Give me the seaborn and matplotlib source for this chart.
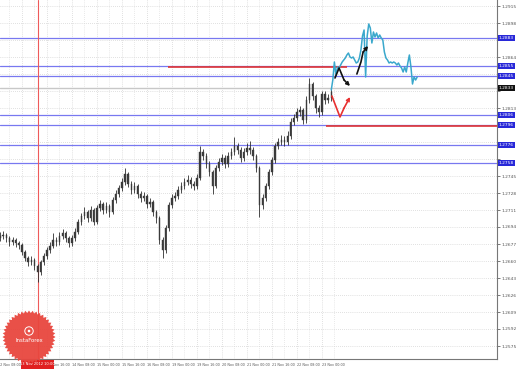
import numpy as np
import pandas as pd
import matplotlib
matplotlib.use("Agg")
import matplotlib.pyplot as plt
import matplotlib.transforms as mtransforms
from matplotlib.patches import Polygon, Rectangle, Circle
import seaborn as sns

sns.set_style("white")
plt.rcParams['font.family'] = ['DejaVu Sans']

# ---------------- data (2-hour candles from 12 Nov 10:00) ----------------
first_open = 1.2683
close = [1.2685,1.2686,1.2683,1.2679,1.2681,1.2678,1.2676,1.2669,1.2663,1.2659,
         1.2661,1.2655,1.2649,1.2659,1.2665,1.2671,1.2675,1.2681,1.2679,1.2685,
         1.2688,1.2683,1.2678,1.2683,1.2689,1.2699,1.2705,1.2709,1.2703,1.2711,
         1.2699,1.2713,1.2717,1.2711,1.2715,1.2709,1.2721,1.2727,1.2733,1.2739,
         1.2747,1.2737,1.2731,1.2735,1.2727,1.2723,1.2725,1.2717,1.2719,1.2709,
         1.2703,1.2681,1.2671,1.2693,1.2716,1.2723,1.2725,1.2731,1.2735,1.2739,
         1.2741,1.2737,1.2735,1.2743,1.2769,1.2765,1.2757,1.2749,1.2735,1.2753,
         1.2759,1.2763,1.2757,1.2765,1.2769,1.2775,1.2771,1.2763,1.2769,1.2773,
         1.2771,1.2765,1.2753,1.2716,1.2723,1.2735,1.2749,1.2761,1.2775,1.2779,
         1.2781,1.2779,1.2785,1.2799,1.2803,1.2809,1.2811,1.2801,1.2821,1.2837,
         1.2825,1.2813,1.2809,1.2827,1.2821,1.2823,1.2829]
high = [1.2689,1.2690,1.2688,1.2685,1.2684,1.2683,1.2680,1.2678,1.2671,1.2665,
        1.2665,1.2663,1.2657,1.2661,1.2668,1.2674,1.2679,1.2688,1.2684,1.2689,
        1.2692,1.2690,1.2685,1.2686,1.2693,1.2702,1.2708,1.2714,1.2711,1.2715,
        1.2713,1.2716,1.2721,1.2719,1.2719,1.2717,1.2724,1.2731,1.2736,1.2743,
        1.2753,1.2749,1.2740,1.2739,1.2737,1.2730,1.2729,1.2727,1.2723,1.2721,
        1.2711,1.2705,1.2684,1.2696,1.2719,1.2727,1.2729,1.2735,1.2739,1.2743,
        1.2746,1.2744,1.2740,1.2747,1.2775,1.2772,1.2768,1.2760,1.2751,1.2756,
        1.2763,1.2767,1.2766,1.2769,1.2773,1.2784,1.2778,1.2774,1.2773,1.2778,
        1.2780,1.2774,1.2767,1.2755,1.2727,1.2738,1.2752,1.2764,1.2778,1.2783,
        1.2786,1.2785,1.2790,1.2803,1.2807,1.2813,1.2815,1.2813,1.2825,1.2843,
        1.2839,1.2827,1.2816,1.2830,1.2830,1.2827,1.2833]
low = [1.2680,1.2682,1.2679,1.2675,1.2676,1.2674,1.2672,1.2666,1.2660,1.2655,
       1.2656,1.2651,1.2639,1.2646,1.2656,1.2662,1.2668,1.2673,1.2675,1.2676,
       1.2682,1.2679,1.2674,1.2675,1.2680,1.2687,1.2696,1.2702,1.2699,1.2700,
       1.2696,1.2697,1.2710,1.2707,1.2708,1.2704,1.2707,1.2718,1.2724,1.2730,
       1.2736,1.2734,1.2727,1.2728,1.2723,1.2719,1.2720,1.2713,1.2714,1.2705,
       1.2698,1.2677,1.2663,1.2668,1.2690,1.2713,1.2720,1.2722,1.2728,1.2732,
       1.2736,1.2733,1.2731,1.2732,1.2741,1.2761,1.2753,1.2745,1.2727,1.2733,
       1.2750,1.2756,1.2753,1.2754,1.2762,1.2766,1.2767,1.2759,1.2760,1.2766,
       1.2767,1.2761,1.2749,1.2704,1.2712,1.2720,1.2732,1.2746,1.2758,1.2772,
       1.2776,1.2775,1.2776,1.2782,1.2796,1.2800,1.2805,1.2797,1.2798,1.2818,
       1.2821,1.2808,1.2804,1.2806,1.2817,1.2818,1.2820]

# later price path (hourly) drawn in cyan
cyan = [1.2831,1.2841,1.2859,1.2846,1.2854,1.2853,1.2856,1.2859,1.2861,1.2863,
        1.2866,1.2868,1.2864,1.2863,1.2864,1.2861,1.2858,1.2859,1.2863,1.2871,
        1.2885,1.2891,1.2844,1.2885,1.2897,1.2893,1.2878,1.2889,1.2884,1.2888,
        1.2883,1.2886,1.2883,1.2881,1.2869,1.2863,1.2861,1.2858,1.2859,1.2858,
        1.2859,1.2858,1.2856,1.2858,1.2855,1.2853,1.2849,1.2854,1.2849,1.2858,
        1.2866,1.2854,1.2837,1.2844,1.2841,1.2844]
cyan_start_bar = 106

blue_levels = [1.2883, 1.2855, 1.2845, 1.2806, 1.2796, 1.2776, 1.2758]
red_levels = [1.2854, 1.2795]
red_from = [53.8, 104.3]
red_to = [111.0, 160.0]
current_price = 1.2833
crosshair_bar = 12.16
crosshair_label = "13 Nov 2012 10:00"

date_bars = [-1, 7, 15, 23, 31, 39, 47, 55, 63, 71, 79, 87, 95, 103]
date_labels = ["12 Nov 08:00", "13 Nov 00:00", "13 Nov 16:00", "14 Nov 08:00",
               "15 Nov 00:00", "15 Nov 16:00", "16 Nov 08:00", "19 Nov 00:00",
               "19 Nov 16:00", "20 Nov 08:00", "21 Nov 00:00", "21 Nov 16:00",
               "22 Nov 08:00", "23 Nov 00:00"]
price_ticks = [round(1.2575 + 0.0017 * k, 4) for k in range(21)]

black_arrow1_x = [107.2, 108.5, 110.1, 112.0]
black_arrow1_y = [1.2843, 1.2853, 1.2841, 1.2835]
black_arrow2_x = [114.2, 115.5, 116.2, 117.8]
black_arrow2_y = [1.2847, 1.2859, 1.2869, 1.2875]
red_arrow_x = [106.2, 108.8, 110.1, 112.0]
red_arrow_y = [1.2825, 1.2804, 1.2813, 1.2824]

# ---------------- figure ----------------
W, H = 518, 370
fig = plt.figure(figsize=(W / 100, H / 100), dpi=100)
fig.patch.set_facecolor('white')
ax = fig.add_axes([0, 11 / H, 497 / W, 359 / H])
ax.set_facecolor('white')
ax.set_xlim(0, 497 / 3.125)
ax.set_ylim(1.2921 - 0.0359, 1.2921)

# grid
for p in price_ticks:
    ax.axhline(p, color='#c4c4c4', lw=0.5, ls=(0, (1, 2)), zorder=0)
for b in date_bars:
    ax.axvline(b, color='#c4c4c4', lw=0.5, ls=(0, (1, 2)), zorder=0)
    ax.axvline(b + 4, color='#d4d4d4', lw=0.5, ls=(0, (1, 2)), zorder=0)

# level lines
for lv in blue_levels:
    ax.axhline(lv, color='#7878f0', lw=0.9, zorder=1)
ax.axhline(current_price, color='#c8c8c8', lw=1.0, zorder=1)
for lv, a, b in zip(red_levels, red_from, red_to):
    ax.hlines(lv, a, b, color='#e03434', lw=1.2, zorder=2)

ax.axvline(crosshair_bar, color='#ee5a5a', lw=0.8, zorder=2)

# candles
df = pd.DataFrame({'close': close, 'high': high, 'low': low})
df['open'] = [first_open] + close[:-1]
df['bar'] = np.arange(len(df))
ax.vlines(df['bar'], df['low'], df['high'], color='#2e2e2e', lw=0.6, zorder=3)
body_lo = np.minimum(df['open'], df['close'])
body_h = np.maximum(np.abs(df['close'] - df['open']), 0.00008)
ax.bar(df['bar'], body_h, bottom=body_lo, width=0.45, color='#3a3a3a',
       edgecolor='#3a3a3a', lw=0.3, zorder=3)

# cyan path
cdf = pd.DataFrame({'bar': cyan_start_bar + 0.5 * np.arange(len(cyan)), 'price': cyan})
sns.lineplot(data=cdf, x='bar', y='price', ax=ax, color='#3aa8cc', lw=1.1, zorder=4)

# hand-drawn arrows
def draw_arrow(xs, ys, col):
    ax.plot(xs[:-1], ys[:-1], color=col, lw=1.2, zorder=5, solid_capstyle='round')
    ax.annotate('', xy=(xs[-1], ys[-1]), xytext=(xs[-2], ys[-2]),
                arrowprops=dict(arrowstyle='->', color=col, lw=1.2,
                                mutation_scale=5, shrinkA=0, shrinkB=0), zorder=5)

draw_arrow(black_arrow1_x, black_arrow1_y, '#111111')
draw_arrow(black_arrow2_x, black_arrow2_y, '#111111')
draw_arrow(red_arrow_x, red_arrow_y, '#e83030')

# axes styling
for s in ['left', 'top']:
    ax.spines[s].set_visible(False)
for s in ['right', 'bottom']:
    ax.spines[s].set_color('#777777')
    ax.spines[s].set_linewidth(0.8)
ax.set_xlabel('')
ax.set_ylabel('')
ax.yaxis.tick_right()
ax.set_yticks(price_ticks)
marked = blue_levels + [current_price]
ax.set_yticklabels([("" if min(abs(p - m) for m in marked) < 0.0006 else f"{p:.4f}")
                    for p in price_ticks])
ax.tick_params(axis='y', labelsize=3.2, length=2, width=0.5, pad=1.5,
               colors='#444444', labelcolor='#555555')
ax.set_xticks([b for b in date_bars if b >= 0])
# the time label right under the crosshair box is hidden by it, as in MT4
ax.set_xticklabels([("" if abs(b - crosshair_bar) < 5.5 and b < crosshair_bar else l)
                    for b, l in zip(date_bars, date_labels) if b >= 0], ha='left')
ax.tick_params(axis='x', labelsize=2.4, length=2, width=0.5, pad=1.2,
               colors='#444444', labelcolor='#555555')
trans = mtransforms.blended_transform_factory(ax.transData, ax.transAxes)
for b, l in zip(date_bars, date_labels):
    if b < 0:
        ax.text(b + 0.3, -0.011, l, transform=trans, ha='left', va='top',
                fontsize=2.4, color='#555555', clip_on=False)

# colored price labels on the axis
ytr = mtransforms.blended_transform_factory(ax.transAxes, ax.transData)
for lv in blue_levels:
    ax.text(1.004, lv, f"{lv:.4f}", transform=ytr, ha='left', va='center',
            fontsize=3.2, color='white', clip_on=False, zorder=6,
            bbox=dict(boxstyle='square,pad=0.25', fc='#2828d8', ec='none'))
ax.text(1.004, current_price, f"{current_price:.4f}", transform=ytr, ha='left',
        va='center', fontsize=3.2, color='white', clip_on=False, zorder=6,
        bbox=dict(boxstyle='square,pad=0.25', fc='#111111', ec='none'))

# overlay in pixel space: crosshair time label and logo
ov = fig.add_axes([0, 0, 1, 1], zorder=10)
ov.set_xlim(0, W)
ov.set_ylim(H, 0)
ov.axis('off')
ov.patch.set_alpha(0)
ov.add_patch(Rectangle((21, 359.5), 33, 9, fc='#e02020', ec='none'))
ov.text(37.5, 364, crosshair_label, ha='center', va='center', fontsize=2.6, color='white')

cx, cy = 29, 337
n = 44
ang = np.linspace(0, 2 * np.pi, 2 * n, endpoint=False)
rad = np.where(np.arange(2 * n) % 2 == 0, 26.5, 24.0)
star = np.column_stack([cx + rad * np.cos(ang), cy + rad * np.sin(ang)])
ov.add_patch(Polygon(star, closed=True, fc='#e8463e', ec='none', alpha=0.95))
ov.add_patch(Circle((cx, cy - 6), 4.2, fc='none', ec='white', lw=0.7))
ov.add_patch(Circle((cx, cy - 6), 1.3, fc='white', ec='none'))
ov.text(cx, cy + 3.5, "InstaForex", ha='center', va='center', fontsize=3.9, color='white')

fig.savefig('out.png', dpi=100)
